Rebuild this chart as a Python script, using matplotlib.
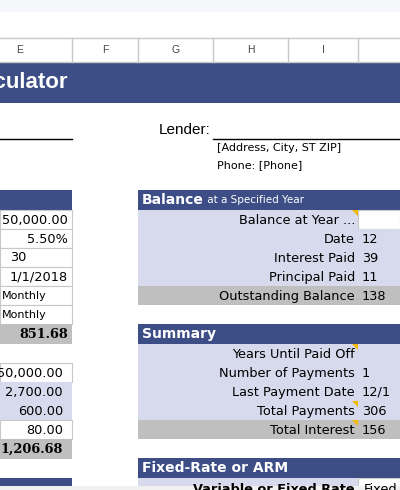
import matplotlib
matplotlib.use("Agg")
import matplotlib.pyplot as plt
from matplotlib.patches import Rectangle, Polygon

col_letters = ["E", "F", "G", "H", "I"]
col_edges = [0, 72, 138, 213, 288, 358, 400]
loan_values = ["50,000.00", "5.50%", "30", "1/1/2018", "Monthly", "Monthly", "851.68"]
cost_values = ["50,000.00", "2,700.00", "600.00", "80.00", "1,206.68"]
balance_labels = ["Balance at Year ...", "Date", "Interest Paid", "Principal Paid", "Outstanding Balance"]
balance_values = ["", "12", "39", "11", "138"]
summary_labels = ["Years Until Paid Off", "Number of Payments", "Last Payment Date", "Total Payments", "Total Interest"]
summary_values = ["", "1", "12/1", "306", "156"]

NAVY = "#3c4e85"; LAV = "#d6daec"; GREY = "#bfbfbf"; LINE = "#c8c8c8"; ORANGE = "#f5b800"
plt.rcParams['font.family'] = ['DejaVu Sans']
FS = 9.3

fig = plt.figure(figsize=(4, 4.9), dpi=100)
ax = fig.add_axes([0, 0, 1, 1])
ax.set_xlim(0, 400); ax.set_ylim(490, 0); ax.axis('off')

def rect(x0, y0, x1, y1, fc, ec='none', lw=0.8):
    ax.add_patch(Rectangle((x0, y0), x1 - x0, y1 - y0, fc=fc, ec=ec, lw=lw))

def tri(x, y):
    ax.add_patch(Polygon([(x - 6, y), (x, y), (x, y + 6)], closed=True, fc=ORANGE, ec='none'))

rect(0, 0, 400, 12, "#f6f7fb")
ax.plot([0, 400], [38, 38], color=LINE, lw=1)
ax.plot([0, 400], [62, 62], color=LINE, lw=1)
for e in col_edges[1:-1]:
    ax.plot([e, e], [38, 62], color=LINE, lw=1)
for i, l in enumerate(col_letters):
    ax.text((col_edges[i] + col_edges[i + 1]) / 2 + (-16 if i == 0 else 0), 50, l, ha='center', va='center',
            fontsize=7.5, color="#444", family='Liberation Sans')
rect(0, 62, 400, 103, NAVY)
ax.text(68, 83, "Calculator", ha='right', va='center', fontsize=16, fontweight='bold', color='white',
        family='Liberation Sans')
ax.plot([0, 72], [139, 139], color='black', lw=1)
ax.plot([213, 400], [139, 139], color='black', lw=1)
ax.text(210, 130, "Lender:", ha='right', va='center', fontsize=11, family='Liberation Sans')
ax.text(217, 148, "[Address, City, ST ZIP]", ha='left', va='center', fontsize=8)
ax.text(217, 165, "Phone: [Phone]", ha='left', va='center', fontsize=8)

rect(0, 190, 72, 210, NAVY)
for i, v in enumerate(loan_values):
    y0 = 210 + i * 19
    last = i == len(loan_values) - 1
    rect(0, y0, 72, y0 + (20 if last else 19), GREY if last else 'white', ec='none' if last else LINE)
    if v == "Monthly":
        ax.text(2, y0 + 10, v, ha='left', va='center', fontsize=8)
    elif v == "30":
        ax.text(10, y0 + 9.5, v, ha='left', va='center', fontsize=FS)
    else:
        ax.text(68, y0 + 10, v, ha='right', va='center', fontsize=FS, fontweight='bold' if last else 'normal',
                family='DejaVu Serif' if last else None)
for i, v in enumerate(cost_values):
    y0 = 363 + i * 19
    last = i == len(cost_values) - 1
    fc = GREY if last else (LAV if i in (1, 2) else 'white')
    rect(0, y0, 72, y0 + (20 if last else 19), fc, ec='none' if (last or i in (1, 2)) else LINE)
    ax.text(63, y0 + 10, v, ha='right', va='center', fontsize=FS, fontweight='bold' if last else 'normal',
            family='DejaVu Serif' if last else None)
rect(0, 478, 72, 490, NAVY)

def block(ytop, title, sub, labels, values, first_white):
    rect(138, ytop, 400, ytop + 20, NAVY)
    t = ax.text(142, ytop + 10, title, ha='left', va='center', fontsize=10, fontweight='bold', color='white')
    if sub:
        ax.annotate(" " + sub, xycoords=t, xy=(1, 0.5), va='center', ha='left', fontsize=7.5, color='white')
    for i, (l, v) in enumerate(zip(labels, values)):
        y0 = ytop + 20 + i * 19
        last = i == len(labels) - 1
        rect(138, y0, 400, y0 + 19, GREY if last else LAV)
        if first_white and i == 0:
            rect(358, y0, 400, y0 + 19, 'white', ec=LINE)
        ax.text(355, y0 + 10, l, ha='right', va='center', fontsize=FS)
        ax.text(362, y0 + 10, v, ha='left', va='center', fontsize=FS)

block(190, "Balance", "at a Specified Year", balance_labels, balance_values, True)
block(324, "Summary", None, summary_labels, summary_values, False)
tri(358, 210); tri(358, 344); tri(358, 401); tri(358, 420)
rect(138, 458, 400, 478, NAVY)
ax.text(142, 468, "Fixed-Rate or ARM", ha='left', va='center', fontsize=10, fontweight='bold', color='white')
rect(138, 478, 400, 490, LAV)
rect(358, 478, 400, 490, 'white', ec=LINE)
ax.text(355, 489, "Variable or Fixed Rate", ha='right', va='center', fontsize=FS, fontweight='bold')
ax.text(364, 489, "Fixed", ha='left', va='center', fontsize=FS)
rect(0, 486, 400, 490, "#f0f0f0")

fig.savefig("out.png", dpi=100)
